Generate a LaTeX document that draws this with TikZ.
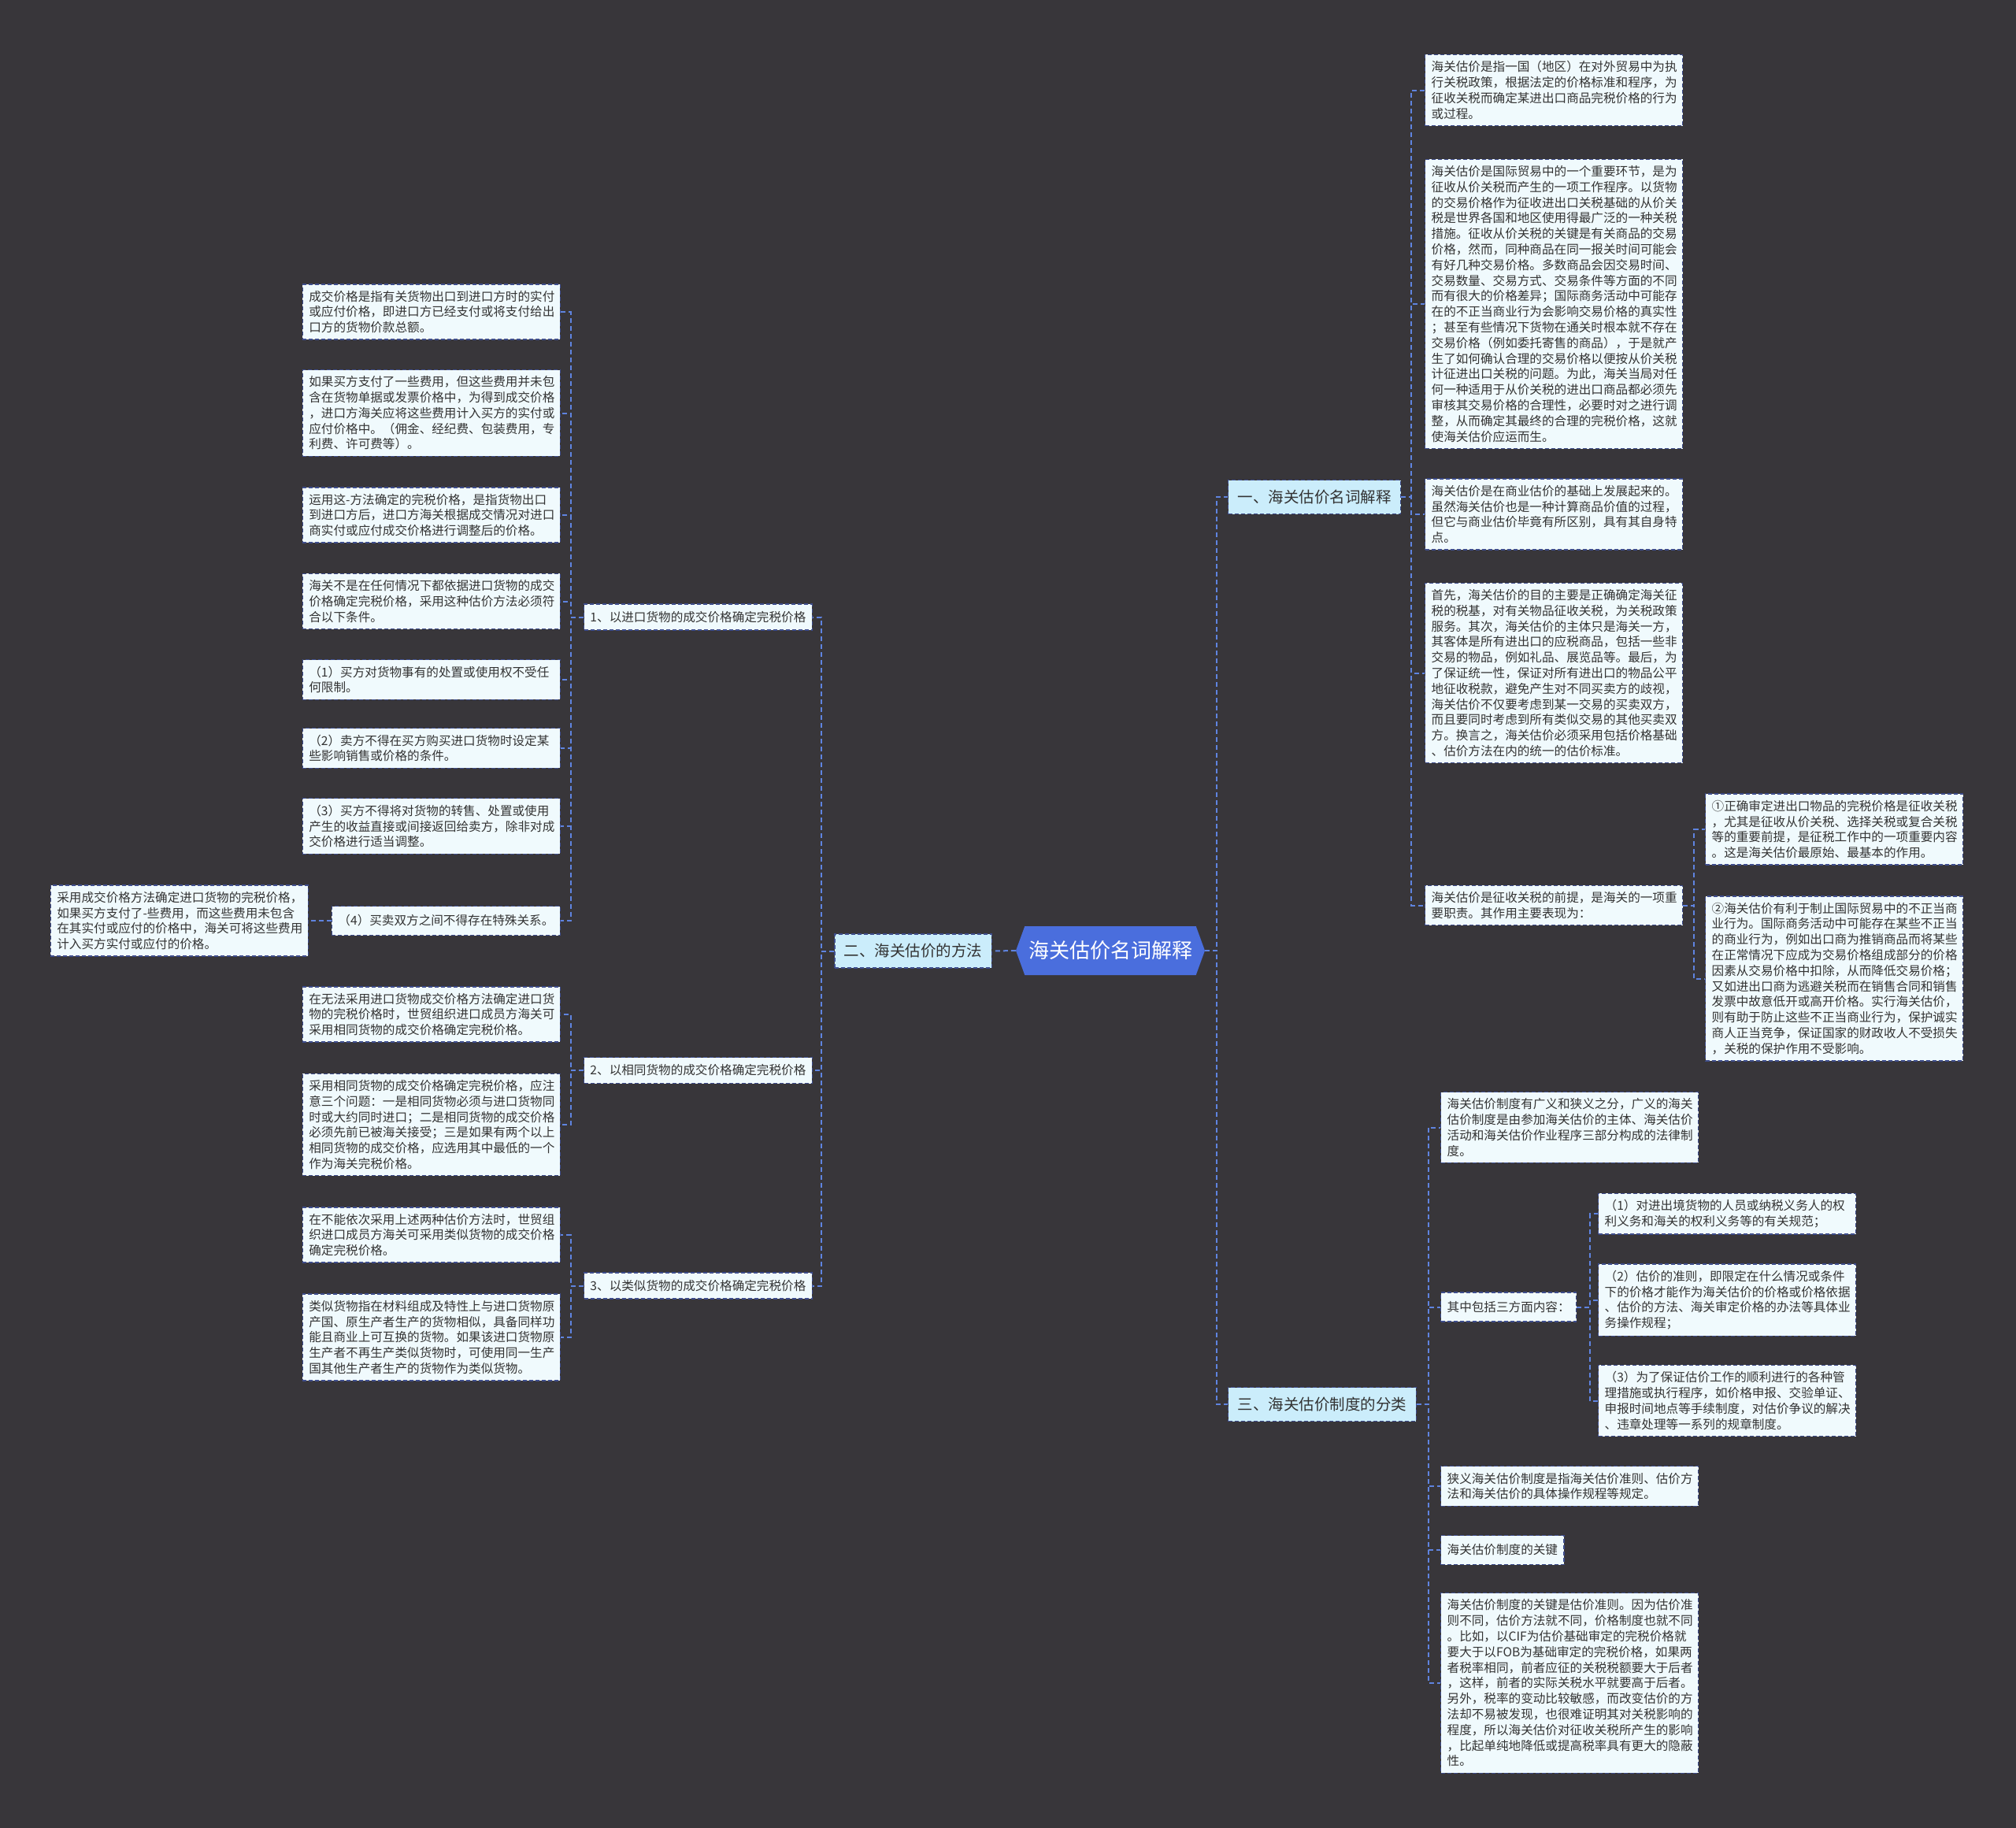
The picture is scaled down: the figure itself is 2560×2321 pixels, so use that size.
\documentclass[tikz,border=0pt]{standalone}
\usepackage{fontspec}
\setmainfont{Noto Sans CJK SC}
\usepackage{xcolor}
\usepackage{tikz}
\usetikzlibrary{shapes.symbols, positioning}
\definecolor{sfondo}{HTML}{38363A}
\definecolor{boxfill}{HTML}{F0FAFD}
\definecolor{boxline}{HTML}{3E4D8C}
\definecolor{branchfill}{HTML}{CBEDFB}
\definecolor{rootfill}{HTML}{4A6EDD}
\definecolor{linkcol}{HTML}{5F84E0}
\definecolor{testo}{HTML}{333333}
\tikzset{
  % Nodi della mappa
  box/.style={draw=boxline,line width=1.3pt,dash pattern=on 5pt off 3pt,fill=boxfill,text=testo,
    inner xsep=8pt,inner ysep=8pt,minimum height=37pt,font=\fontsize{15.6}{19.8}\selectfont},
  box leaf/.style={box,text width=311pt,align=left},
  box sub/.style={box,minimum height=33pt},
  box branch/.style={box,fill=branchfill,inner xsep=12pt,minimum height=43pt,font=\fontsize{19.5}{23}\selectfont},
  box root/.style={signal,signal to=west and east,signal pointer angle=140,fill=rootfill,draw=none,
    text=white,minimum width=240pt,minimum height=62pt,inner sep=2pt,font=\fontsize{26}{30}\selectfont},
  % Connessioni
  connect/.style={draw=linkcol,line width=2pt,dash pattern=on 6pt off 4pt}
}
\begin{document}
\begin{tikzpicture}[x=1pt,y=-1pt]
  \fill[sfondo] (0,0) rectangle (2560,2321);
  \useasboundingbox (0,0) rectangle (2560,2321);

  \node[box root] (root) at (1410,1207) {海关估价名词解释};
  \node[box branch,anchor=west] (b1) at (1559,631) {一、海关估价名词解释};
  \node[box branch,anchor=east] (b2) at (1260,1207.5) {二、海关估价的方法};
  \node[box branch,anchor=west] (b3) at (1559,1783) {三、海关估价制度的分类};

  % ramo uno
  \node[box leaf,anchor=west] (r1) at (1809,114.5) {海关估价是指一国（地区）在对外贸易中为执\\行关税政策，根据法定的价格标准和程序，为\\征收关税而确定某进出口商品完税价格的行为\\或过程。};
  \node[box leaf,anchor=west] (r2) at (1809,386) {海关估价是国际贸易中的一个重要环节，是为\\征收从价关税而产生的一项工作程序。以货物\\的交易价格作为征收进出口关税基础的从价关\\税是世界各国和地区使用得最广泛的一种关税\\措施。征收从价关税的关键是有关商品的交易\\价格，然而，同种商品在同一报关时间可能会\\有好几种交易价格。多数商品会因交易时间、\\交易数量、交易方式、交易条件等方面的不同\\而有很大的价格差异；国际商务活动中可能存\\在的不正当商业行为会影响交易价格的真实性\\；甚至有些情况下货物在通关时根本就不存在\\交易价格（例如委托寄售的商品），于是就产\\生了如何确认合理的交易价格以便按从价关税\\计征进出口关税的问题。为此，海关当局对任\\何一种适用于从价关税的进出口商品都必须先\\审核其交易价格的合理性，必要时对之进行调\\整，从而确定其最终的合理的完税价格，这就\\使海关估价应运而生。};
  \node[box leaf,anchor=west] (r3) at (1809,653) {海关估价是在商业估价的基础上发展起来的。\\虽然海关估价也是一种计算商品价值的过程，\\但它与商业估价毕竟有所区别，具有其自身特\\点。};
  \node[box leaf,anchor=west] (r4) at (1809,854.5) {首先，海关估价的目的主要是正确确定海关征\\税的税基，对有关物品征收关税，为关税政策\\服务。其次，海关估价的主体只是海关一方，\\其客体是所有进出口的应税商品，包括一些非\\交易的物品，例如礼品、展览品等。最后，为\\了保证统一性，保证对所有进出口的物品公平\\地征收税款，避免产生对不同买卖方的歧视，\\海关估价不仅要考虑到某一交易的买卖双方，\\而且要同时考虑到所有类似交易的其他买卖双\\方。换言之，海关估价必须采用包括价格基础\\、估价方法在内的统一的估价标准。};
  \node[box leaf,anchor=west] (r5) at (1809,1149.5) {海关估价是征收关税的前提，是海关的一项重\\要职责。其作用主要表现为：};
  \node[box leaf,anchor=west] (r5a) at (2165,1053) {①正确审定进出口物品的完税价格是征收关税\\，尤其是征收从价关税、选择关税或复合关税\\等的重要前提，是征税工作中的一项重要内容\\。这是海关估价最原始、最基本的作用。};
  \node[box leaf,anchor=west] (r5b) at (2165,1242.5) {②海关估价有利于制止国际贸易中的不正当商\\业行为。国际商务活动中可能存在某些不正当\\的商业行为，例如出口商为推销商品而将某些\\在正常情况下应成为交易价格组成部分的价格\\因素从交易价格中扣除，从而降低交易价格；\\又如进出口商为逃避关税而在销售合同和销售\\发票中故意低开或高开价格。实行海关估价，\\则有助于防止这些不正当商业行为，保护诚实\\商人正当竞争，保证国家的财政收人不受损失\\，关税的保护作用不受影响。};

  % ramo tre
  \node[box leaf,anchor=west] (t1) at (1829,1431.5) {海关估价制度有广义和狭义之分，广义的海关\\估价制度是由参加海关估价的主体、海关估价\\活动和海关估价作业程序三部分构成的法律制\\度。};
  \node[box,anchor=west] (t2) at (1829,1659.5) {其中包括三方面内容：};
  \node[box leaf,anchor=west] (t2a) at (2029,1541) {（1）对进出境货物的人员或纳税义务人的权\\利义务和海关的权利义务等的有关规范；};
  \node[box leaf,anchor=west] (t2b) at (2029,1650.5) {（2）估价的准则，即限定在什么情况或条件\\下的价格才能作为海关估价的价格或价格依据\\、估价的方法、海关审定价格的办法等具体业\\务操作规程；};
  \node[box leaf,anchor=west] (t2c) at (2029,1778.5) {（3）为了保证估价工作的顺利进行的各种管\\理措施或执行程序，如价格申报、交验单证、\\申报时间地点等手续制度，对估价争议的解决\\、违章处理等一系列的规章制度。};
  \node[box leaf,anchor=west] (t3) at (1829,1887) {狭义海关估价制度是指海关估价准则、估价方\\法和海关估价的具体操作规程等规定。};
  \node[box,anchor=west] (t4) at (1829,1968) {海关估价制度的关键};
  \node[box leaf,anchor=west] (t5) at (1829,2137) {海关估价制度的关键是估价准则。因为估价准\\则不同，估价方法就不同，价格制度也就不同\\。比如，以CIF为估价基础审定的完税价格就\\要大于以FOB为基础审定的完税价格，如果两\\者税率相同，前者应征的关税税额要大于后者\\，这样，前者的实际关税水平就要高于后者。\\另外，税率的变动比较敏感，而改变估价的方\\法却不易被发现，也很难证明其对关税影响的\\程度，所以海关估价对征收关税所产生的影响\\，比起单纯地降低或提高税率具有更大的隐蔽\\性。};

  % ramo due
  \node[box sub,anchor=east] (m1) at (1032,783.5) {1、以进口货物的成交价格确定完税价格};
  \node[box sub,anchor=east] (m2) at (1032,1359) {2、以相同货物的成交价格确定完税价格};
  \node[box sub,anchor=east] (m3) at (1032,1632.5) {3、以类似货物的成交价格确定完税价格};
  \node[box leaf,anchor=east] (l1) at (712,396) {成交价格是指有关货物出口到进口方时的实付\\或应付价格，即进口方已经支付或将支付给出\\口方的货物价款总额。};
  \node[box leaf,anchor=east] (l2) at (712,524.5) {如果买方支付了一些费用，但这些费用并未包\\含在货物单据或发票价格中，为得到成交价格\\，进口方海关应将这些费用计入买方的实付或\\应付价格中。（佣金、经纪费、包装费用，专\\利费、许可费等）。};
  \node[box leaf,anchor=east] (l3) at (712,654) {运用这-方法确定的完税价格，是指货物出口\\到进口方后，进口方海关根据成交情况对进口\\商实付或应付成交价格进行调整后的价格。};
  \node[box leaf,anchor=east] (l4) at (712,763.5) {海关不是在任何情况下都依据进口货物的成交\\价格确定完税价格，采用这种估价方法必须符\\合以下条件。};
  \node[box leaf,anchor=east] (l5) at (712,863) {（1）买方对货物事有的处置或使用权不受任\\何限制。};
  \node[box leaf,anchor=east] (l6) at (712,950) {（2）卖方不得在买方购买进口货物时设定某\\些影响销售或价格的条件。};
  \node[box leaf,anchor=east] (l7) at (712,1049) {（3）买方不得将对货物的转售、处置或使用\\产生的收益直接或间接返回给卖方，除非对成\\交价格进行适当调整。};
  \node[box,anchor=east] (l8) at (712,1169) {（4）买卖双方之间不得存在特殊关系。};
  \node[box leaf,anchor=east] (l8a) at (392,1169) {采用成交价格方法确定进口货物的完税价格，\\如果买方支付了-些费用，而这些费用未包含\\在其实付或应付的价格中，海关可将这些费用\\计入买方实付或应付的价格。};
  \node[box leaf,anchor=east] (l9) at (712,1288) {在无法采用进口货物成交价格方法确定进口货\\物的完税价格时，世贸组织进口成员方海关可\\采用相同货物的成交价格确定完税价格。};
  \node[box leaf,anchor=east] (l10) at (712,1428) {采用相同货物的成交价格确定完税价格，应注\\意三个问题：一是相同货物必须与进口货物同\\时或大约同时进口；二是相同货物的成交价格\\必须先前已被海关接受；三是如果有两个以上\\相同货物的成交价格，应选用其中最低的一个\\作为海关完税价格。};
  \node[box leaf,anchor=east] (l11) at (712,1568) {在不能依次采用上述两种估价方法时，世贸组\\织进口成员方海关可采用类似货物的成交价格\\确定完税价格。};
  \node[box leaf,anchor=east] (l12) at (712,1698) {类似货物指在材料组成及特性上与进口货物原\\产国、原生产者生产的货物相似，具备同样功\\能且商业上可互换的货物。如果该进口货物原\\生产者不再生产类似货物时，可使用同一生产\\国其他生产者生产的货物作为类似货物。};

  % connessioni
  \draw[connect] (root.west) -- (b2.east);
  \foreach \c in {b1,b3} \draw[connect] (root.east) -- ++(15,0) |- (\c.west);
  \foreach \c in {r1,r2,r3,r4,r5} \draw[connect] (b1.east) -- ++(13,0) |- (\c.west);
  \foreach \c in {r5a,r5b} \draw[connect] (r5.east) -- ++(14,0) |- (\c.west);
  \foreach \c in {t1,t2,t3,t4,t5} \draw[connect] (b3.east) -- ++(15,0) |- (\c.west);
  \foreach \c in {t2a,t2b,t2c} \draw[connect] (t2.east) -- ++(17,0) |- (\c.west);
  \foreach \c in {m1,m2,m3} \draw[connect] (b2.west) -- ++(-16,0) |- (\c.east);
  \foreach \c in {l1,l2,l3,l4,l5,l6,l7,l8} \draw[connect] (m1.west) -- ++(-16,0) |- (\c.east);
  \foreach \c in {l9,l10} \draw[connect] (m2.west) -- ++(-16,0) |- (\c.east);
  \foreach \c in {l11,l12} \draw[connect] (m3.west) -- ++(-16,0) |- (\c.east);
  \draw[connect] (l8.west) -- (l8a.east);
\end{tikzpicture}
\end{document}
